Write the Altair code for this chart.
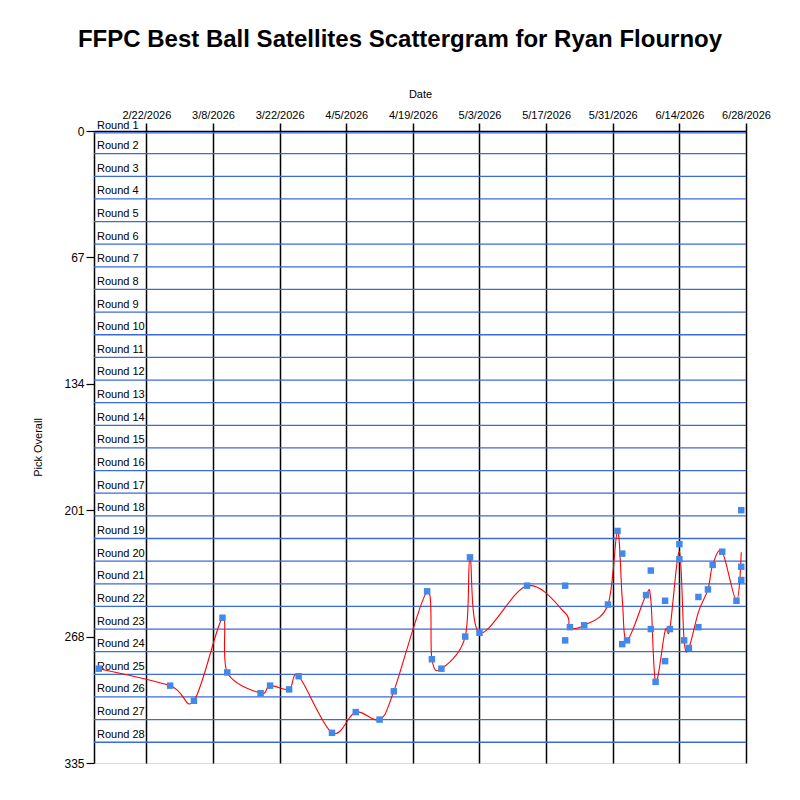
import altair as alt
import pandas as pd

# ---- data ----
dates = [
    "2026-02-12", "2026-02-27", "2026-03-04", "2026-03-10", "2026-03-11",
    "2026-03-18", "2026-03-20", "2026-03-24", "2026-03-26", "2026-04-02",
    "2026-04-07", "2026-04-12", "2026-04-15", "2026-04-22", "2026-04-23",
    "2026-04-25", "2026-04-30", "2026-05-01", "2026-05-03", "2026-05-13",
    "2026-05-21", "2026-05-21", "2026-05-22", "2026-05-25", "2026-05-30",
    "2026-06-01", "2026-06-02", "2026-06-02", "2026-06-03", "2026-06-07",
    "2026-06-08", "2026-06-08", "2026-06-09", "2026-06-11", "2026-06-11",
    "2026-06-12", "2026-06-14", "2026-06-14", "2026-06-15", "2026-06-16",
    "2026-06-18", "2026-06-18", "2026-06-20", "2026-06-21", "2026-06-23",
    "2026-06-26", "2026-06-27", "2026-06-27", "2026-06-27",
]
picks = [
    285, 294, 302, 258, 287,
    298, 294, 296, 289, 319,
    308, 312, 297, 244, 280,
    285, 268, 226, 266, 241,
    241, 270, 263, 262, 251,
    212, 224, 272, 270, 246,
    233, 264, 292, 249, 281,
    264, 219, 227, 270, 274,
    263, 247, 243, 230, 223,
    249, 201, 231, 238,
]
round_names = [f"Round {i}" for i in range(1, 29)]
round_label_pick = [max(12 * i - 16, -2.5) for i in range(1, 29)]
round_lines = [1] + [12 * k for k in range(1, 28)]
x_tick_dates = ["2026-02-22", "2026-03-08", "2026-03-22", "2026-04-05",
                "2026-04-19", "2026-05-03", "2026-05-17", "2026-05-31",
                "2026-06-14", "2026-06-28"]
y_ticks = [0, 67, 134, 201, 268, 335]
x_domain = ["2026-02-11", "2026-06-28"]

FONT = "Liberation Sans"


def dt(s):
    y, m, d = (int(v) for v in s.split("-"))
    return alt.DateTime(year=y, month=m, date=d)


df = pd.DataFrame({"date": [d + "T00:00:00" for d in dates], "pick": picks})
rounds_df = pd.DataFrame({"name": round_names, "p": round_label_pick})
lines_df = pd.DataFrame({"b": round_lines})

yscale = alt.Scale(domain=[0, 335], reverse=True, nice=False, zero=False)
xscale = alt.Scale(domain=[dt(x_domain[0]), dt(x_domain[1])], nice=False)

x_axis = alt.Axis(
    orient="top", values=[dt(s) for s in x_tick_dates], format="%-m/%-d/%Y",
    title="Date", grid=True, gridColor="black", gridWidth=1.5, gridOpacity=1,
    tickColor="black", tickSize=8, tickWidth=1.5, domainColor="black", domainWidth=1.5,
    labelFontSize=11, labelFont=FONT, labelColor="black", labelPadding=3,
    titleFont=FONT, titleFontSize=11, titleFontWeight="normal", titleColor="black",
    titlePadding=10, labelOverlap=False, labelFlush=False,
)
y_axis = alt.Axis(
    values=y_ticks, title="Pick Overall", grid=False,
    tickColor="black", tickSize=8, tickWidth=1.2, domainColor="black", domainWidth=1.5,
    labelFontSize=12, labelFont=FONT, labelColor="black", labelPadding=2,
    titleFont=FONT, titleFontSize=11, titleFontWeight="normal", titleColor="black",
    titleX=-51, titleY=316,
)

rules = alt.Chart(lines_df).mark_rule(color="#3b6bdb", strokeWidth=1.3).encode(
    y=alt.Y("b:Q", scale=yscale, axis=y_axis)
)

labels = alt.Chart(rounds_df).mark_text(
    align="left", baseline="middle", font=FONT, fontSize=11, color="black"
).encode(
    x=alt.value(3),
    y=alt.Y("p:Q", scale=yscale),
    text="name:N",
)

line = alt.Chart(df).transform_aggregate(
    mean_pick="mean(pick)", groupby=["date"]
).mark_line(color="#ff0000", strokeWidth=1.1, interpolate="cardinal").encode(
    x=alt.X("date:T", scale=xscale, axis=x_axis),
    y=alt.Y("mean_pick:Q", scale=yscale),
)

points = alt.Chart(df).mark_square(size=42, color="#4389ea", opacity=1).encode(
    x=alt.X("date:T", scale=xscale),
    y=alt.Y("pick:Q", scale=yscale),
)

chart = alt.layer(rules, labels, line, points).properties(
    width=652, height=632,
    padding={"left": 86, "top": 123, "right": 46, "bottom": 29},
    autosize=alt.AutoSizeParams(type="none"),
    title=alt.TitleParams(
        "FFPC Best Ball Satellites Scattergram for Ryan Flournoy",
        font=FONT, fontSize=24, fontWeight="bold", color="black",
        anchor="middle", dx=-20, offset=36,
    ),
).configure_view(strokeWidth=0).configure(background="white")

chart.save("out.html", embed_options={"renderer": "svg", "actions": False})
